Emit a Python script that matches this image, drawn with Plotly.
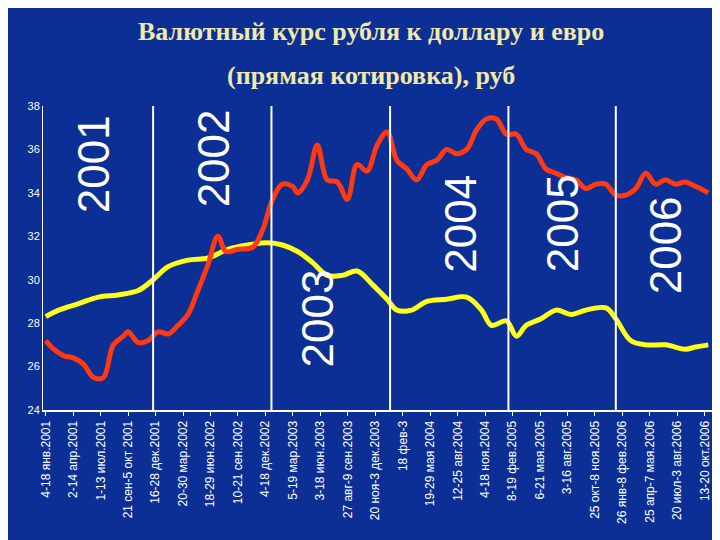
import plotly.graph_objects as go

# ---- data (x in label-interval units) ----
tick_labels = ["4-18 янв.2001", "2-14 апр.2001", "1-13 июл.2001", "21 сен-5 окт 2001",
               "16-28 дек.2001", "20-30 мар.2002", "18-29 июн.2002", "10-21 сен.2002",
               "4-18 дек.2002", "5-19 мар.2003", "3-18 июн.2003", "27 авг-9 сен.2003",
               "20 ноя-3 дек.2003", "18 фев-3", "19-29 мая 2004", "12-25 авг.2004",
               "4-18 ноя.2004", "8-19 фев.2005", "6-21 мая.2005", "3-16 авг.2005",
               "25 окт-8 ноя.2005", "26 янв-8 фев.2006", "25 апр-7 мая.2006",
               "20 июл-3 авг.2006", "13-20 окт.2006"]

eur_x = [0, 0.29, 0.65, 1.01, 1.38, 1.74, 2.1, 2.46, 2.83, 3.0, 3.37, 3.73, 4.09, 4.46,
         4.82, 5.18, 5.54, 5.91, 6.27, 6.56, 6.99, 7.54, 7.9, 8.26, 8.62, 8.99, 9.17, 9.53,
         9.89, 10.25, 10.62, 10.98, 11.34, 11.7, 12.07, 12.43, 12.79, 13.15, 13.51, 13.88,
         14.24, 14.6, 14.96, 15.33, 15.69, 16.05, 16.41, 16.78, 17.14, 17.5, 17.86, 18.22,
         18.59, 18.95, 19.31, 19.67, 20.04, 20.4, 20.76, 21.12, 21.49, 21.85, 22.21, 22.57,
         22.93, 23.3, 23.66, 24.13]
eur = [27.2, 26.8, 26.5, 26.4, 26.1, 25.5, 25.5, 27.0, 27.4, 27.6, 27.1, 27.2, 27.6, 27.5,
       27.9, 28.4, 29.5, 30.7, 32.0, 31.3, 31.4, 31.5, 32.3, 33.7, 34.4, 34.3, 34.0, 34.6,
       36.2, 34.6, 34.5, 33.7, 35.3, 35.0, 36.2, 36.8, 35.5, 35.1, 34.6, 35.3,
       35.5, 36.0, 35.8, 36.0, 36.9, 37.4, 37.4, 36.7, 36.7, 36.0, 35.8, 35.1,
       34.9, 34.7, 34.6, 34.2, 34.4, 34.4, 33.9, 33.9, 34.2, 34.9, 34.4, 34.6,
       34.4, 34.5, 34.3, 34.0]

usd_x = [0, 0.47, 1.2, 1.92, 2.64, 3.37, 3.91, 4.46, 5.18, 5.91, 6.63, 7.36, 8.08, 8.62,
         9.17, 9.71, 10.25, 10.8, 11.34, 11.88, 12.43, 12.79, 13.33, 13.88, 14.6, 15.33,
         15.87, 16.23, 16.78, 17.14, 17.5, 18.04, 18.59, 19.13, 19.67, 20.4, 20.76, 21.3,
         21.85, 22.57, 23.3, 23.66, 24.13]
usd = [28.3, 28.6, 28.9, 29.2, 29.3, 29.5, 30.0, 30.6, 30.9, 31.0, 31.4, 31.6, 31.7, 31.6,
       31.3, 30.8, 30.2, 30.2, 30.4, 29.8, 29.1, 28.6, 28.6, 29.0, 29.1, 29.2,
       28.6, 27.9, 28.1, 27.4, 27.9, 28.2, 28.6, 28.4, 28.6, 28.7, 28.2, 27.2,
       27.0, 27.0, 26.8, 26.9, 27.0]

year_breaks = [3.91, 8.22, 12.54, 16.85, 20.76]
years = ["2001", "2002", "2003", "2004", "2005", "2006"]
year_x = [1.74, 6.1, 9.9, 15.1, 18.8, 22.6]
year_y = [35.3, 35.6, 28.2, 32.6, 32.6, 31.6]

BG = "#0b2f95"

fig = go.Figure()

for xb in year_breaks:
    fig.add_shape(type="line", x0=xb, x1=xb, y0=24, y1=38, xref="x", yref="y",
                  line=dict(color="white", width=2))

fig.add_trace(go.Scatter(x=usd_x, y=usd, mode="lines", name="USD",
                         line=dict(color="#ffff1a", width=5, shape="spline")))
fig.add_trace(go.Scatter(x=eur_x, y=eur, mode="lines", name="EUR",
                         line=dict(color="#ff3a12", width=5, shape="spline")))

for t, xx, yy in zip(years, year_x, year_y):
    fig.add_annotation(x=xx, y=yy, text=t, textangle=-90, showarrow=False,
                       font=dict(family="Liberation Sans Narrow, Liberation Sans", size=44,
                                 color="white"))

# title as two paper-anchored lines
fig.add_annotation(text="<b>Валютный курс рубля к доллару и евро</b>", x=0.49, y=1.245,
                   xref="paper", yref="paper", showarrow=False, yanchor="middle",
                   font=dict(family="Liberation Serif", size=26, color="#f2e8a8"))
fig.add_annotation(text="<b>(прямая котировка), руб</b>", x=0.49, y=1.1,
                   xref="paper", yref="paper", showarrow=False, yanchor="middle",
                   font=dict(family="Liberation Serif", size=26, color="#f2e8a8"))

fig.update_layout(
    width=720, height=540,
    paper_bgcolor=BG, plot_bgcolor=BG,
    showlegend=False,
    margin=dict(l=35, r=15, t=98, b=138, autoexpand=False),
)
fig.update_xaxes(range=[-0.1, 24.3], tickmode="array", tickvals=list(range(25)),
                 ticktext=tick_labels, tickangle=-90, showgrid=False, zeroline=False,
                 showline=True, linecolor="white", linewidth=2, ticks="outside",
                 tickcolor="white", ticklen=4,
                 tickfont=dict(family="Liberation Sans", size=12, color="white"))
fig.update_yaxes(range=[24, 38], dtick=2, showgrid=False, zeroline=False,
                 showline=True, linecolor="white", linewidth=1, ticks="",
                 tickfont=dict(family="Liberation Sans", size=11, color="white"))

fig.write_html("out.html")
